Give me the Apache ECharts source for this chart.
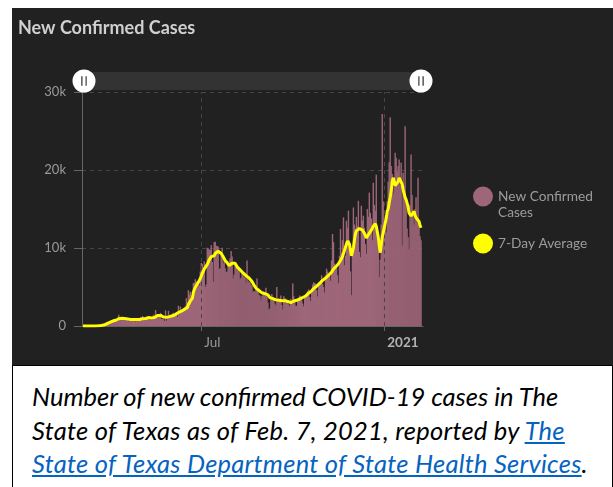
<!DOCTYPE html>
<html><head><meta charset="utf-8">
<script src="https://cdn.jsdelivr.net/npm/echarts@6/dist/echarts.min.js"></script>
<style>
html,body{margin:0;padding:0;background:#fff;width:613px;height:487px;overflow:hidden;}
#panel{position:absolute;left:12px;top:8px;width:601px;height:357px;background:#212121;}
#chart{position:absolute;left:0;top:0;width:613px;height:365px;}
#caption{position:absolute;left:12px;top:365px;width:601px;height:122px;border-left:1px solid #000;border-top:1px solid #000;border-right:1px solid #000;box-sizing:border-box;background:#fff;font-family:Lato,"Open Sans",sans-serif;font-style:italic;font-size:25.5px;line-height:33.5px;color:#000;padding:14px 0 0 19px;white-space:nowrap;}
#caption a{color:#0563C1;text-decoration:underline;}
#caption .wide{letter-spacing:0.25px;}
</style></head>
<body>
<div id="panel"></div>
<div id="chart"></div>
<div id="caption">Number of new confirmed COVID-19 cases in The<br><span class="wide">State of Texas as of Feb. 7, 2021, reported by <a href="#">The<br>State of Texas Department of State Health Services</a>.</span></div>
<script>
// daily new confirmed cases, first day 2020-03-04
const casesMar20 = [1,0,2,3,0,3,2,3,8,9,12,6,24,21,52,57,61,129,110,106,188,289,390,495,531,487,592,554];
const casesApr20 = [731,700,780,860,680,790,850,1100,1450,820,860,770,920,930,870,950,870,800,620,760,850,880,900,1030,790,580,700,880,1030,1000];
const casesMay20 = [1140,1030,1290,800,960,1020,1060,1240,1190,1060,760,1010,1170,1460,1120,2040,1490,1480,1330,1290,1690,900,950,880,640,2000,690,980,1950,1250,1100];
const casesJun20 = [1300,1600,1700,1650,1690,1800,1200,2590,1500,2500,2000,2100,2300,1900,2600,3570,3100,4590,4000,4400,3300,3500,5489,5551,5996,5707,5747,5357,5200,6975];
const casesJul20 = [8076,7915,7555,8258,5000,5318,10028,9979,9782,9765,10351,8196,5655,10745,10791,10291,10256,10158,7300,7404,9305,10036,8000,8800,7400,6900,7000,7800,8300,8700,9600];
const casesAug20 = [8900,6100,6600,8000,7700,7500,7400,7000,6000,6200,7000,6600,6200,6500,5500,8400,5800,5600,5600,5300,5200,4300,4500,4400,4700,6100,4500,4000,3900,3300,3800];
const casesSep20 = [4500,4400,4200,4900,3900,3000,2100,2250,3800,4100,3700,3400,2900,2600,5000,3600,3500,3400,3900,2700,2100,3800,3600,3500,3300,3200,2800,2500,3500,3000];
const casesOct20 = [5440,3800,3300,2600,2550,3400,3700,3900,3800,3300,2900,2500,3600,4100,4300,4500,4700,3700,3200,4800,5300,5600,5500,5400,4600,3800,5650,5200,5900,6500,5400];
const casesNov20 = [5000,4300,6500,7350,7000,6200,6400,5800,8400,11800,10740,8000,7800,7600,6500,5500,9000,12440,9400,11000,13920,7800,9000,13500,12600,14780,11000,7000,3950,9500];
const casesDec20 = [15200,13000,12500,14000,12800,16050,9500,8830,15420,13500,14140,12600,10500,9260,15000,14000,17100,14500,13800,11000,18380,15500,14800,19400,12500,10000,6290,8500,13000,27170,16000];
const casesJan21 = [13500,14200,12000,16000,18500,21000,26750,20500,19500,17000,18000,22200,21570,19800,20500,21360,18000,20930,10300,19660,18000,25600,16500,12500,11380,9800,15500,22000,16800,14500,13000];
const casesFeb21 = [15000,16500,14000,19020,13000,11500,11000];

const avgMar20 = [0,0,1,1,1,1,2,2,3,4,5,6,9,12,18,26,34,51,65,78,96,123,163,215,270,330,400,475];
const avgApr20 = [535,610,640,690,700,740,770,820,930,940,970,980,1000,990,960,880,880,900,860,840,830,820,810,830,830,820,820,830,850,840];
const avgMay20 = [880,900,940,930,950,960,1040,1060,1080,1090,1050,1040,1050,1080,1100,1230,1290,1350,1370,1330,1360,1250,1200,1150,1090,1190,1110,1010,1160,1200,1230];
const avgJun20 = [1220,1310,1340,1440,1470,1560,1560,1730,1750,1860,1900,1960,2030,2130,2140,2300,2370,2720,2910,3210,3420,3550,4300,4700,4950,5200,5400,5600,5800,6100];
const avgJul20 = [6400,6750,7000,7300,7400,7500,7900,8200,8500,8700,8900,8900,8900,9000,9300,9400,9500,9600,9500,9400,9300,9200,8900,8700,8400,8200,8100,7900,7750,7800,7950];
const avgAug20 = [8050,8100,8150,8050,7800,7600,7450,7350,7200,7050,6950,6800,6650,6550,6450,6400,6300,6150,6000,5900,5700,5500,5250,5050,4850,4800,4650,4550,4450,4300,4250];
const avgSep20 = [4200,4150,4150,4200,4100,4000,3850,3650,3600,3550,3500,3450,3400,3350,3350,3300,3300,3300,3250,3250,3250,3250,3250,3250,3200,3150,3100,3050,3000,2950];
const avgOct20 = [3100,3200,3250,3300,3300,3350,3400,3450,3550,3600,3650,3700,3750,3850,3950,4100,4200,4300,4400,4500,4650,4800,4950,5050,5100,5200,5300,5450,5550,5700,5850];
const avgNov20 = [5950,6050,6150,6300,6400,6500,6600,6700,6900,7100,7300,7400,7550,7700,7850,8000,8200,8400,8600,8900,9300,9700,10100,10500,10900,11000,10500,9800,9000,8800];
const avgDec20 = [10000,11000,11800,12200,12300,12400,12500,12600,12500,12300,12200,11900,11600,11300,11400,11700,11900,12100,12300,12500,12800,13000,13100,12800,12100,11400,10300,9400,9600,11400,12000];
const avgJan21 = [12600,13200,13800,14700,15000,15800,16500,17300,18500,19000,18600,18000,18000,18200,18500,19000,19200,18800,18200,17500,17000,16500,16200,16000,15300,14500,14300,14100,14000,13900,14700];
const avgFeb21 = [14200,13900,13700,13800,13400,12900,12600];

const yTicks = [0, 10000, 20000, 30000];
const xTickLabels = ['Jul', '2021'];

const cases = [].concat(casesMar20,casesApr20,casesMay20,casesJun20,casesJul20,casesAug20,casesSep20,casesOct20,casesNov20,casesDec20,casesJan21,casesFeb21);
const avg7 = [].concat(avgMar20,avgApr20,avgMay20,avgJun20,avgJul20,avgAug20,avgSep20,avgOct20,avgNov20,avgDec20,avgJan21,avgFeb21);
const dates = cases.map((_, i) => new Date(2020, 2, 4 + i).getTime());
const julTs = new Date(2020, 6, 1).getTime();
const janTs = new Date(2021, 0, 1).getTime();
const minTs = new Date(2020, 2, 3).getTime();
const maxTs = new Date(2021, 1, 9).getTime();

const FONT = 'Lato';
const legendText = {color: '#9c9c9c', fontSize: 13.7, lineHeight: 16, fontFamily: FONT};
const chart = echarts.init(document.getElementById('chart'), null, {renderer: 'canvas'});
chart.setOption({
  animation: false,
  backgroundColor: 'transparent',
  textStyle: {fontFamily: FONT},
  title: {text: 'New Confirmed Cases', left: 18, top: 19, padding: 0,
    textStyle: {color: '#d0d0d0', fontSize: 18, fontWeight: 'bold', fontFamily: FONT}},
  legend: [
    {left: 473, top: 172.5, padding: 0, orient: 'vertical', icon: 'circle', itemWidth: 20, itemHeight: 20, selectedMode: false,
      textStyle: legendText, formatter: name => ' \n' + name,
      data: ['New Confirmed\nCases']},
    {left: 473, top: 233.5, padding: 0, orient: 'vertical', icon: 'circle', itemWidth: 20, itemHeight: 20, selectedMode: false,
      textStyle: legendText,
      data: ['7-Day Average']}
  ],
  grid: {left: 82, right: 190, top: 92, bottom: 39, containLabel: false, outerBoundsMode: 'none'},
  dataZoom: [{
    type: 'slider', xAxisIndex: 0, filterMode: 'none', start: 0, end: 100,
    left: 82, right: 192, top: 72, height: 18,
    backgroundColor: '#333333', borderColor: '#333333', borderRadius: 0, fillerColor: 'rgba(0,0,0,0)',
    showDetail: false, showDataShadow: false, brushSelect: false, moveHandleSize: 0,
    handleIcon: 'path://M12,0A12,12,0,1,1,12,24A12,12,0,1,1,12,0ZM9.2,7L9.2,17L10.4,17L10.4,7ZM13.6,7L13.6,17L14.8,17L14.8,7Z',
    handleSize: 23,
    handleStyle: {color: '#ffffff', borderColor: '#ffffff', borderWidth: 0, shadowBlur: 0},
    dataBackground: {lineStyle: {opacity: 0}, areaStyle: {opacity: 0}},
    selectedDataBackground: {lineStyle: {opacity: 0}, areaStyle: {opacity: 0}}
  }],
  xAxis: {
    type: 'value', min: minTs, max: maxTs, scale: true,
    axisLine: {show: true, onZero: false, lineStyle: {color: '#666', width: 1}},
    axisTick: {show: true, customValues: [julTs, janTs], length: 5, lineStyle: {color: '#666'}},
    axisLabel: {
      customValues: [julTs, janTs],
      formatter: v => (new Date(v).getMonth() === 0 ? '{b|' + xTickLabels[1] + '}' : xTickLabels[0]),
      color: '#9a9a9a', fontSize: 13.5, align: 'left', margin: 10, padding: [0, 0, 0, 3], fontFamily: FONT,
      rich: {b: {fontWeight: 'bold', color: '#b4b4b4', fontSize: 13.5, fontFamily: FONT}}
    },
    splitLine: {show: false}
  },
  yAxis: {
    type: 'value', min: yTicks[0], max: yTicks[yTicks.length - 1], interval: yTicks[1] - yTicks[0],
    axisLine: {show: true, lineStyle: {color: '#666'}},
    axisTick: {show: true, length: 8, lineStyle: {color: '#666'}},
    axisLabel: {color: '#9a9a9a', fontSize: 13, margin: 16, fontFamily: FONT,
      formatter: v => (v === 0 ? '0' : (v / 1000) + 'k')},
    splitLine: {show: true, lineStyle: {type: [4, 4], color: '#464646', width: 1}}
  },
  series: [
    {
      name: 'New Confirmed\nCases', type: 'bar', barWidth: 1.4,
      itemStyle: {color: '#9e6679'},
      data: dates.map((t, i) => [t, cases[i]]),
      markLine: {silent: true, symbol: ['none', 'none'], label: {show: false},
        lineStyle: {type: [4, 4], color: '#464646', width: 1},
        data: [{xAxis: julTs}, {xAxis: janTs}]}
    },
    {
      name: '7-Day Average', type: 'line', showSymbol: false, symbol: 'none', z: 5,
      lineStyle: {color: '#ffff00', width: 3}, itemStyle: {color: '#ffff00'},
      data: dates.map((t, i) => [t, avg7[i]])
    }
  ]
});
</script>
</body></html>
